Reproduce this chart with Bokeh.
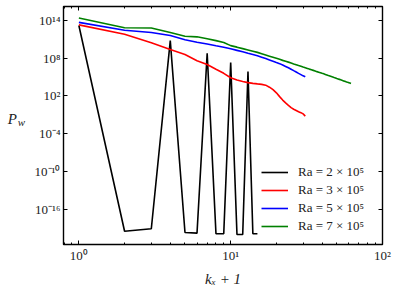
import numpy as np
from bokeh.plotting import figure
from bokeh.models import (LogAxis, FixedTicker, Legend, LegendItem, Label,
                          Range1d)
from bokeh.embed import file_html
from bokeh.resources import INLINE

# ---------------- data (P_w given as log10 exponents) ----------------
k_black = list(range(1, 16))
exp_black = [13.2, -19.5, -19.1, 10.8, -19.7, -19.8, 8.8, -19.9, -19.9,
             7.3, -20.0, -20.0, 5.9, -19.9, -19.9]

k_red = list(range(1, 32))
exp_red = [13.3, 11.8, 10.45, 9.4, 8.6, 7.6, 7.0, 6.25, 5.6, 4.9,
           4.55, 4.3, 4.12, 4.0, 3.92, 3.85, 3.72, 3.4, 3.0, 2.5,
           1.9, 1.35, 0.9, 0.5, 0.15, -0.1, -0.3, -0.5, -0.65, -0.85, -1.2]

k_blue = list(range(1, 32))
exp_blue = [13.7, 12.45, 12.1, 11.6, 10.95, 10.55, 10.25, 9.98, 9.75, 9.5,
            9.25, 9.02, 8.8, 8.6, 8.4, 8.17, 7.95, 7.73, 7.52, 7.32,
            7.14, 6.92, 6.7, 6.48, 6.25, 6.03, 5.82, 5.6, 5.4, 5.2, 5.05]

k_green = list(range(1, 63))
exp_green = [14.4, 12.85, 12.8, 12.1, 11.5, 11.4, 11.1, 10.8, 10.5, 10.0,
             9.76, 9.53, 9.32, 9.12, 8.93, 8.72, 8.52, 8.33, 8.15, 7.98,
             7.82, 7.66, 7.52, 7.38, 7.24, 7.1, 6.97, 6.84, 6.72, 6.6,
             6.49, 6.38, 6.27, 6.17, 6.07, 5.97, 5.87, 5.78, 5.69, 5.6,
             5.52, 5.43, 5.34, 5.25, 5.17, 5.09, 5.01, 4.93, 4.86, 4.78,
             4.71, 4.64, 4.57, 4.5, 4.43, 4.36, 4.3, 4.23, 4.17, 4.11,
             4.05, 3.98]

series_labels = ["Ra = 2 × 10⁵", "Ra = 3 × 10⁵", "Ra = 5 × 10⁵", "Ra = 7 × 10⁵"]
series_colors = ["#000000", "#ff0000", "#0000ff", "#008000"]

x_tick_values = [1.0, 10.0, 100.0]
x_tick_labels = ["10⁰", "10¹", "10²"]
x_minor_values = [0.8, 0.9, 2, 3, 4, 5, 6, 7, 8, 9,
                  20, 30, 40, 50, 60, 70, 80, 90]
y_tick_values = [1e-16, 1e-10, 1e-4, 1e2, 1e8, 1e14]
y_tick_labels = ["10⁻¹⁶", "10⁻¹⁰", "10⁻⁴", "10²", "10⁸", "10¹⁴"]
x_axis_title = "kₓ + 1"

x_lim = (0.792, 100.0)
y_lim_exp = (-21.6, 16.22)

FONT = "Liberation Serif"
TXT = "#222222"

# ---------------- figure ----------------
W, H = 399, 293
p = figure(width=W, height=H, x_axis_type="log", y_axis_type="log",
           x_range=Range1d(*x_lim),
           y_range=Range1d(10 ** y_lim_exp[0], 10 ** y_lim_exp[1]),
           output_backend="svg", toolbar_location=None,
           min_border_left=63, min_border_right=17,
           min_border_top=6, min_border_bottom=49)
p.grid.visible = False
p.outline_line_color = "black"
p.outline_line_width = 1.4
p.background_fill_color = "white"
p.border_fill_color = "white"

series = [(k_black, exp_black), (k_red, exp_red),
          (k_blue, exp_blue), (k_green, exp_green)]
renderers = []
for (ks, ex), col in zip(series, series_colors):
    ys = [10.0 ** e for e in ex]
    r = p.line(ks, ys, line_color=col, line_width=1.6)
    renderers.append(r)


def style_axis(ax, ticks, minor, labels, show):
    ax.ticker = FixedTicker(ticks=ticks, minor_ticks=minor)
    ax.axis_line_color = None
    ax.major_tick_in = 4
    ax.major_tick_out = 0
    ax.minor_tick_in = 2
    ax.minor_tick_out = 0
    ax.major_tick_line_color = "black"
    ax.minor_tick_line_color = "black"
    ax.major_tick_line_width = 1
    ax.minor_tick_line_width = 1
    if show:
        ax.major_label_overrides = {v: l for v, l in zip(ticks, labels)}
        ax.major_label_text_font = FONT
        ax.major_label_text_font_size = "13px"
        ax.major_label_text_color = TXT
        ax.major_label_standoff = 3
    else:
        ax.major_label_overrides = {v: "" for v in ticks}
        ax.major_label_standoff = 0
        ax.major_label_text_font_size = "1px"


style_axis(p.xaxis[0], x_tick_values, x_minor_values, x_tick_labels, True)
style_axis(p.yaxis[0], y_tick_values, [], y_tick_labels, True)

xa = p.xaxis[0]
xa.axis_label = x_axis_title
xa.axis_label_text_font = FONT
xa.axis_label_text_font_size = "15px"
xa.axis_label_text_font_style = "italic"
xa.axis_label_text_color = TXT
xa.axis_label_standoff = 5

top = LogAxis()
style_axis(top, x_tick_values, x_minor_values, x_tick_labels, False)
p.add_layout(top, "above")
right = LogAxis()
style_axis(right, y_tick_values, [], y_tick_labels, False)
p.add_layout(right, "right")


# y-axis title P_w as text annotations placed in the left side panel
def lab(x, y, t, size, side, style="italic"):
    p.add_layout(Label(x=x, y=y, x_units="screen", y_units="screen", text=t,
                       text_font=FONT, text_font_size=size,
                       text_font_style=style, text_color=TXT,
                       text_align="left", text_baseline="alphabetic"), side)


lab(-14.7, 125.5, "P", "15px", "left")
lab(2.3, 123.0, "w", "11px", "left")

legend = Legend(items=[LegendItem(label=l, renderers=[r])
                       for l, r in zip(series_labels, renderers)],
                location=(198, 9), glyph_width=27, glyph_height=18,
                label_height=18, spacing=0, padding=0, margin=0,
                label_standoff=10, border_line_color=None,
                background_fill_alpha=0, label_text_font=FONT,
                label_text_font_size="13px", label_text_color=TXT)
p.add_layout(legend)

open("out.html", "w").write(file_html(p, INLINE))
